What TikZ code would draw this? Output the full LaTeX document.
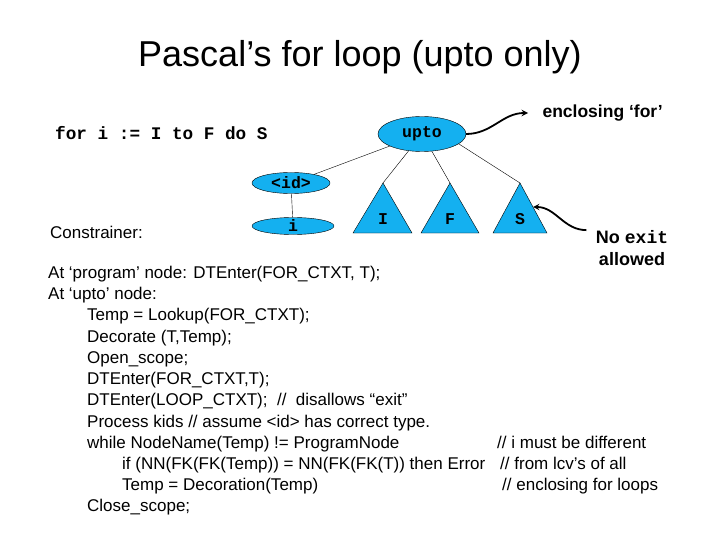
\documentclass[tikz,border=0pt]{standalone}
\usepackage{fontspec}
\setmainfont{Liberation Sans}
\setmonofont{Liberation Mono}
\usetikzlibrary{shapes.geometric}
\definecolor{treefill}{RGB}{20,176,240}

\begin{document}
\begin{tikzpicture}[x=1pt,y=-1pt,
    tnode/.style={ellipse, draw, fill=treefill, inner sep=0pt, font=\ttfamily\bfseries\fontsize{16.5}{16.5}\selectfont},
    tri/.style={draw, fill=treefill},
    body/.style={anchor=base west, inner sep=0pt, font=\fontsize{17}{17}\selectfont},
    bigarrow/.style={-stealth, line width=1.8pt}]
    \useasboundingbox (0,0) rectangle (720,540);

    \node[font=\fontsize{36}{36}\selectfont] (title) at (360,57) {Pascal’s for loop (upto only)};
    \node[anchor=base west, inner sep=0pt, font=\ttfamily\bfseries\fontsize{17.7}{17.7}\selectfont] (code) at (55,140) {for i := I to F do S};

    % the tree
    \node[tnode, minimum width=88pt, minimum height=35pt] (upto) at (422,134) {upto};
    \node[tnode, minimum width=78pt, minimum height=21pt] (id) at (291,183) {<id>};
    \node[tnode, minimum width=82pt, minimum height=17pt] (i) at (293,226) {i};

    \coordinate (Itop) at (383,183);
    \coordinate (Ftop) at (450,183);
    \coordinate (Stop) at (520,183);
    \draw[tri] (Itop) -- (412,233) -- (353,233) -- cycle;
    \draw[tri] (Ftop) -- (479,233) -- (421,233) -- cycle;
    \draw[tri] (Stop) -- (547,233) -- (493,233) -- cycle;
    \node[font=\ttfamily\bfseries\fontsize{16.5}{16.5}\selectfont] (I) at (383,219) {I};
    \node[font=\ttfamily\bfseries\fontsize{16.5}{16.5}\selectfont] (F) at (450,219) {F};
    \node[font=\ttfamily\bfseries\fontsize{16.5}{16.5}\selectfont] (S) at (520,219) {S};

    \draw (upto) -- (id);
    \draw (upto) -- (Itop);
    \draw (upto) -- (Ftop);
    \draw (upto.-15) -- (Stop);
    \draw (id) -- (i);

    % annotations
    \node[anchor=west, font=\bfseries\fontsize{17.5}{17.5}\selectfont] (encl) at (539,113) {enclosing ‘for’};
    \draw[bigarrow] (upto.east) to[out=0,in=180] ([xshift=-11pt]encl.west);

    \node[align=center, font=\bfseries\fontsize{18}{21.5}\selectfont] (noexit) at (632,248) {No {\ttfamily exit}\\allowed};
    \coordinate (Sside) at (533,207);
    \draw[bigarrow] ([xshift=-6pt,yshift=-3pt]noexit.north west) to[out=180,in=0] (Sside);

    \node[anchor=base west, inner sep=0pt, font=\fontsize{17}{17}\selectfont] (constr) at (50,238) {Constrainer:};

    % the checks
    \node[body] (l1) at (48,278) {At ‘program’ node: DTEnter(FOR\_CTXT, T);};
    \node[body] (l2) at (48,299) {At ‘upto’ node:};
    \node[body] (l3) at (87,320) {Temp = Lookup(FOR\_CTXT);};
    \node[body] (l4) at (87,342) {Decorate (T,Temp);};
    \node[body] (l5) at (87,363) {Open\_scope;};
    \node[body] (l6) at (87,384) {DTEnter(FOR\_CTXT,T);};
    \node[body] (l7) at (87,405) {DTEnter(LOOP\_CTXT); \ // \ disallows “exit”};
    \node[body] (l8) at (87,427) {Process kids // assume <id> has correct type.};
    \node[body] (l9) at (87,448) {while NodeName(Temp) != ProgramNode};
    \node[body] (l10) at (122,469) {if (NN(FK(FK(Temp)) = NN(FK(FK(T)) then Error};
    \node[body] (l11) at (122,490) {Temp = Decoration(Temp)};
    \node[body] (l12) at (87,511) {Close\_scope;};

    \node[body] (c1) at (497,448) {// i must be different};
    \node[body] (c2) at (500,469) {// from lcv’s of all};
    \node[body] (c3) at (502,490) {// enclosing for loops};
\end{tikzpicture}
\end{document}
